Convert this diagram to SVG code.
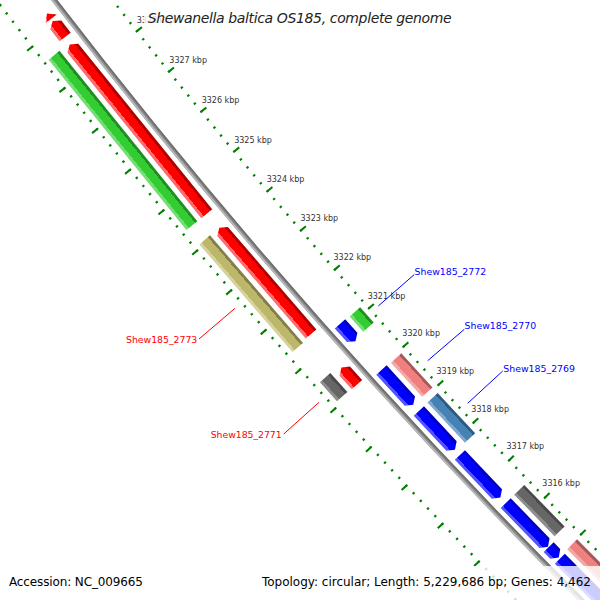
<svg xmlns="http://www.w3.org/2000/svg" width="600" height="600" viewBox="0 0 600 600">
<style>
.tl{font-family:"DejaVu Sans",sans-serif;font-size:8px;fill:#333}
.cl{font-family:"DejaVu Sans",sans-serif;font-size:9.4px}
.lg{font-family:"DejaVu Sans",sans-serif;font-size:12px;fill:#000}
.lead{fill:none;stroke-width:1}
.tk{fill:none;stroke:#008000}
</style>
<defs>
<linearGradient id="gRed" x1="0" y1="0" x2="1" y2="0"><stop offset="0" stop-color="#b00000"/><stop offset="0.2" stop-color="#b00000"/><stop offset="0.2" stop-color="#ff0000"/><stop offset="0.78" stop-color="#ff0000"/><stop offset="0.78" stop-color="#ff6a6a"/><stop offset="1" stop-color="#ff6a6a"/></linearGradient>
<linearGradient id="gGreen" x1="0" y1="0" x2="1" y2="0"><stop offset="0" stop-color="#1f8f1f"/><stop offset="0.2" stop-color="#1f8f1f"/><stop offset="0.2" stop-color="#33cc33"/><stop offset="0.78" stop-color="#33cc33"/><stop offset="0.78" stop-color="#74de74"/><stop offset="1" stop-color="#74de74"/></linearGradient>
<linearGradient id="gBlue" x1="0" y1="0" x2="1" y2="0"><stop offset="0" stop-color="#0000c0"/><stop offset="0.2" stop-color="#0000c0"/><stop offset="0.2" stop-color="#0000ff"/><stop offset="0.78" stop-color="#0000ff"/><stop offset="0.78" stop-color="#5252ff"/><stop offset="1" stop-color="#5252ff"/></linearGradient>
<linearGradient id="gKhaki" x1="0" y1="0" x2="1" y2="0"><stop offset="0" stop-color="#858049"/><stop offset="0.2" stop-color="#858049"/><stop offset="0.2" stop-color="#bdb76b"/><stop offset="0.78" stop-color="#bdb76b"/><stop offset="0.78" stop-color="#d6d29c"/><stop offset="1" stop-color="#d6d29c"/></linearGradient>
<linearGradient id="gGray" x1="0" y1="0" x2="1" y2="0"><stop offset="0" stop-color="#4a4a4a"/><stop offset="0.2" stop-color="#4a4a4a"/><stop offset="0.2" stop-color="#666666"/><stop offset="0.78" stop-color="#666666"/><stop offset="0.78" stop-color="#8c8c8c"/><stop offset="1" stop-color="#8c8c8c"/></linearGradient>
<linearGradient id="gPink" x1="0" y1="0" x2="1" y2="0"><stop offset="0" stop-color="#a85858"/><stop offset="0.2" stop-color="#a85858"/><stop offset="0.2" stop-color="#f08080"/><stop offset="0.78" stop-color="#f08080"/><stop offset="0.78" stop-color="#f5a6a6"/><stop offset="1" stop-color="#f5a6a6"/></linearGradient>
<linearGradient id="gSteel" x1="0" y1="0" x2="1" y2="0"><stop offset="0" stop-color="#2f5a80"/><stop offset="0.2" stop-color="#2f5a80"/><stop offset="0.2" stop-color="#4682b4"/><stop offset="0.78" stop-color="#4682b4"/><stop offset="0.78" stop-color="#7ea8cc"/><stop offset="1" stop-color="#7ea8cc"/></linearGradient>
</defs>
<rect width="600" height="600" fill="#fff"/>
<g id="genome-map" transform="translate(4891,-3717)">
 <g id="ruler" transform="rotate(141.26)">
  <circle class="tk" r="6054" pathLength="736000" stroke-width="2.5" stroke-dasharray="40 160" stroke-dashoffset="20"/>
  <circle class="tk" r="6051" pathLength="736000" stroke-width="7" stroke-dasharray="40 960" stroke-dashoffset="20"/>
  <circle class="tk" r="6146" pathLength="736000" stroke-width="2.5" stroke-dasharray="40 160" stroke-dashoffset="20"/>
  <circle class="tk" r="6149" pathLength="736000" stroke-width="7" stroke-dasharray="40 960" stroke-dashoffset="20"/>
 </g>
 <g id="backbone" fill="none">
  <circle r="6100" stroke="#8c8c8c" stroke-width="5"/>
  <circle r="6101.6" stroke="#b8b8b8" stroke-width="1.8"/>
  <circle r="6098.4" stroke="#707070" stroke-width="1.8"/>
 </g>
 <g id="feat-a" transform="rotate(142.3676)"><path d="M6107,-3.4H6121L6114,3.4Z" fill="url(#gRed)"/></g>
 <g id="feat-b" transform="rotate(142.216)"><path d="M6107,-10.175H6121V5.175L6114,10.175L6107,5.175Z" fill="url(#gRed)"/></g>
 <g id="feat-c" transform="rotate(141.0192)"><path d="M6107,-108.95H6121V103.95L6114,108.95L6107,103.95Z" fill="url(#gRed)"/></g>
 <g id="Shew185_2773-cds" transform="rotate(139.1646)"><path d="M6107,-70.2H6121V65.2L6114,70.2L6107,65.2Z" fill="url(#gRed)"/></g>
 <g id="Shew185_2771-cds" transform="rotate(137.9751)"><path d="M6107,-11.6H6121V6.6L6114,11.6L6107,6.6Z" fill="url(#gRed)"/></g>
 <g id="feat-f" transform="rotate(141.0265)"><rect x="6126" y="-109.55" width="14" height="219.1" fill="url(#gGreen)"/></g>
 <g id="Shew185_2773" transform="rotate(139.1595)"><rect x="6126" y="-71.15" width="14" height="142.3" fill="url(#gKhaki)"/></g>
 <g id="Shew185_2771" transform="rotate(137.9952)"><rect x="6126" y="-12.75" width="14" height="25.5" fill="url(#gGray)"/></g>
 <g id="Shew185_2772-cds" transform="rotate(138.2888)"><path d="M6086,-11.65L6093,-6.65V11.65H6079V-6.65Z" fill="url(#gBlue)"/></g>
 <g id="Shew185_2770-cds" transform="rotate(137.5918)"><path d="M6086,-23.55L6093,-18.55V23.55H6079V-18.55Z" fill="url(#gBlue)"/></g>
 <g id="Shew185_2769-cds" transform="rotate(137.0424)"><path d="M6086,-26.45L6093,-21.45V26.45H6079V-21.45Z" fill="url(#gBlue)"/></g>
 <g id="feat-l" transform="rotate(136.4483)"><path d="M6086,-29.35L6093,-24.35V29.35H6079V-24.35Z" fill="url(#gBlue)"/></g>
 <g id="feat-m" transform="rotate(135.8137)"><path d="M6086,-30.35L6093,-25.35V30.35H6079V-25.35Z" fill="url(#gBlue)"/></g>
 <g id="feat-n" transform="rotate(135.4524)"><path d="M6086,-7.2L6093,-2.2V7.2H6079V-2.2Z" fill="url(#gBlue)"/></g>
 <g id="feat-o" transform="rotate(134.9646)"><path d="M6086,-42.9L6093,-37.9V42.9H6079V-37.9Z" fill="url(#gBlue)"/></g>
 <g id="Shew185_2772" transform="rotate(138.2922)"><rect x="6060" y="-10.2" width="14" height="20.4" fill="url(#gGreen)"/></g>
 <g id="Shew185_2770" transform="rotate(137.5869)"><rect x="6060" y="-23.15" width="14" height="46.3" fill="url(#gPink)"/></g>
 <g id="Shew185_2769" transform="rotate(137.0356)"><rect x="6060" y="-27.5" width="14" height="55" fill="url(#gSteel)"/></g>
 <g id="feat-s" transform="rotate(135.8284)"><rect x="6060" y="-28.95" width="14" height="57.9" fill="url(#gGray)"/></g>
 <g id="feat-t" transform="rotate(134.8996)"><rect x="6060" y="-51.4" width="14" height="102.8" fill="url(#gPink)"/></g>
</g>
<g id="ruler-labels" class="tl">
 <text x="136.7" y="22.7">3328 kbp</text>
 <text x="169.3" y="63.3">3327 kbp</text>
 <text x="201.7" y="102.7">3326 kbp</text>
 <text x="234.2" y="142.5">3325 kbp</text>
 <text x="266.7" y="182.3">3324 kbp</text>
 <text x="300.5" y="221.3">3323 kbp</text>
 <text x="333.5" y="260.2">3322 kbp</text>
 <text x="367.7" y="298.5">3321 kbp</text>
 <text x="402.3" y="336.3">3320 kbp</text>
 <text x="436.5" y="374.2">3319 kbp</text>
 <text x="471.3" y="412.2">3318 kbp</text>
 <text x="506.5" y="449">3317 kbp</text>
 <text x="542.3" y="486">3316 kbp</text>
</g>
<g id="connectors" class="lead">
 <line x1="378.3" y1="306" x2="414.3" y2="274.5" stroke="#0000ff"/>
 <line x1="427.7" y1="360.7" x2="464.3" y2="329.3" stroke="#0000ff"/>
 <line x1="467.7" y1="403.3" x2="502.7" y2="371" stroke="#0000ff"/>
 <line x1="235" y1="308.3" x2="199" y2="339" stroke="#ff0000"/>
 <line x1="319" y1="402.3" x2="283.7" y2="434" stroke="#ff0000"/>
</g>
<g id="callouts" class="cl">
 <text x="414.5" y="275.3" fill="#0000ff" textLength="71.7">Shew185_2772</text>
 <text x="464.5" y="329.3" fill="#0000ff" textLength="71.7">Shew185_2770</text>
 <text x="503.3" y="372" fill="#0000ff" textLength="71.7">Shew185_2769</text>
 <text x="126" y="343" fill="#ff0000" textLength="71.3">Shew185_2773</text>
 <text x="210.7" y="438.3" fill="#ff0000" textLength="71">Shew185_2771</text>
</g>
<rect id="title-box" x="144" y="0" width="312" height="29" fill="#fff" fill-opacity="0.8"/>
<text id="title" x="147.7" y="23.3" font-family="DejaVu Sans, sans-serif" font-size="14" font-style="italic" fill="#222" textLength="304" lengthAdjust="spacing">Shewanella baltica OS185, complete genome</text>
<rect id="legend-box" x="258" y="566" width="342" height="34" fill="#fff" fill-opacity="0.8"/>
<text class="lg" x="9" y="585.5" textLength="134">Accession: NC_009665</text>
<text class="lg" x="262" y="585.5" textLength="329">Topology: circular; Length: 5,229,686 bp; Genes: 4,462</text>
</svg>
